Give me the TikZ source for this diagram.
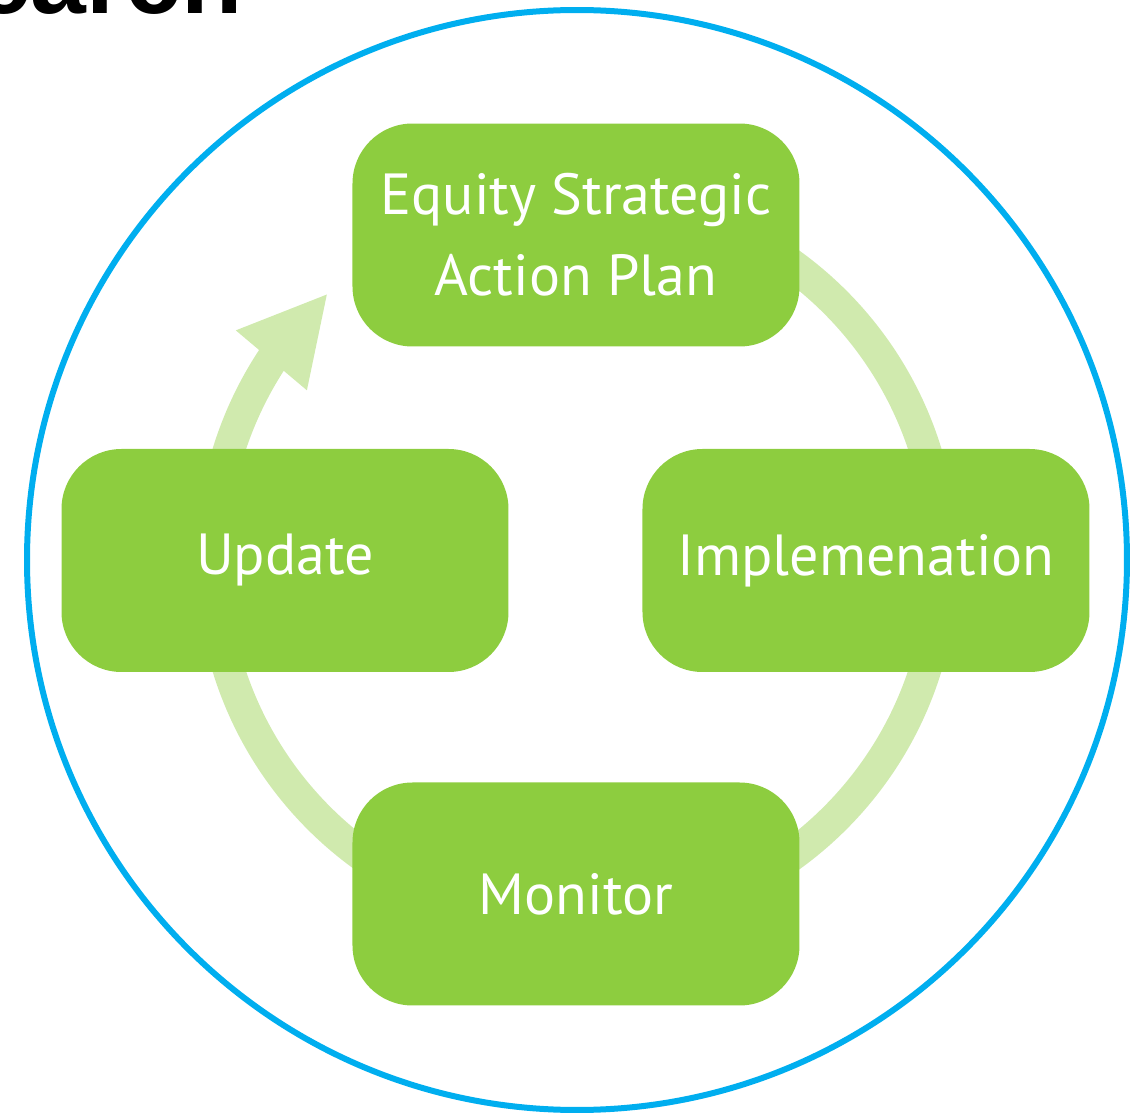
\documentclass[tikz,border=0pt]{standalone}
\usepackage{fontspec}
\setmainfont{PT Sans}
\newfontfamily\headfont{Liberation Sans}
\usetikzlibrary{arrows.meta,bending}
\definecolor{leaf}{HTML}{8DCD3F}
\definecolor{pale}{HTML}{D0EAAE}
\definecolor{rim}{HTML}{00AEEF}

\begin{document}
\begin{tikzpicture}[stage/.style={rounded corners=0.6cm,fill=leaf,text=white,
              minimum width=4.47cm,minimum height=2.23cm,align=center,
              font=\fontsize{16.5}{23}\selectfont},
              ringline/.style={draw=pale,line width=0.32cm},
              >={Triangle[length=0.88cm,width=0.86cm,flex]}]
    \useasboundingbox (0,0) rectangle (11.33,11.13);
    \coordinate (hub) at (5.77,5.53);

    \draw[rim,line width=0.06cm] (hub) circle[radius=5.5];
    \path[ringline,->] (hub) ++(90:3.65) arc[start angle=90,end angle=-227,radius=3.65];

    \node[stage] (plan) at (5.76,8.78) {Equity Strategic\\Action Plan};
    \node[stage] (impl) at (8.66,5.525) {Implemenation};
    \node[stage] (mon) at (5.76,2.19) {Monitor};
    \node[stage] (upd) at (2.85,5.525) {Update};

    \node[anchor=base east,inner sep=0,
          font=\headfont\bfseries\fontsize{28.5}{30}\selectfont] (head) at (2.43,10.99) {earch};
\end{tikzpicture}
\end{document}
